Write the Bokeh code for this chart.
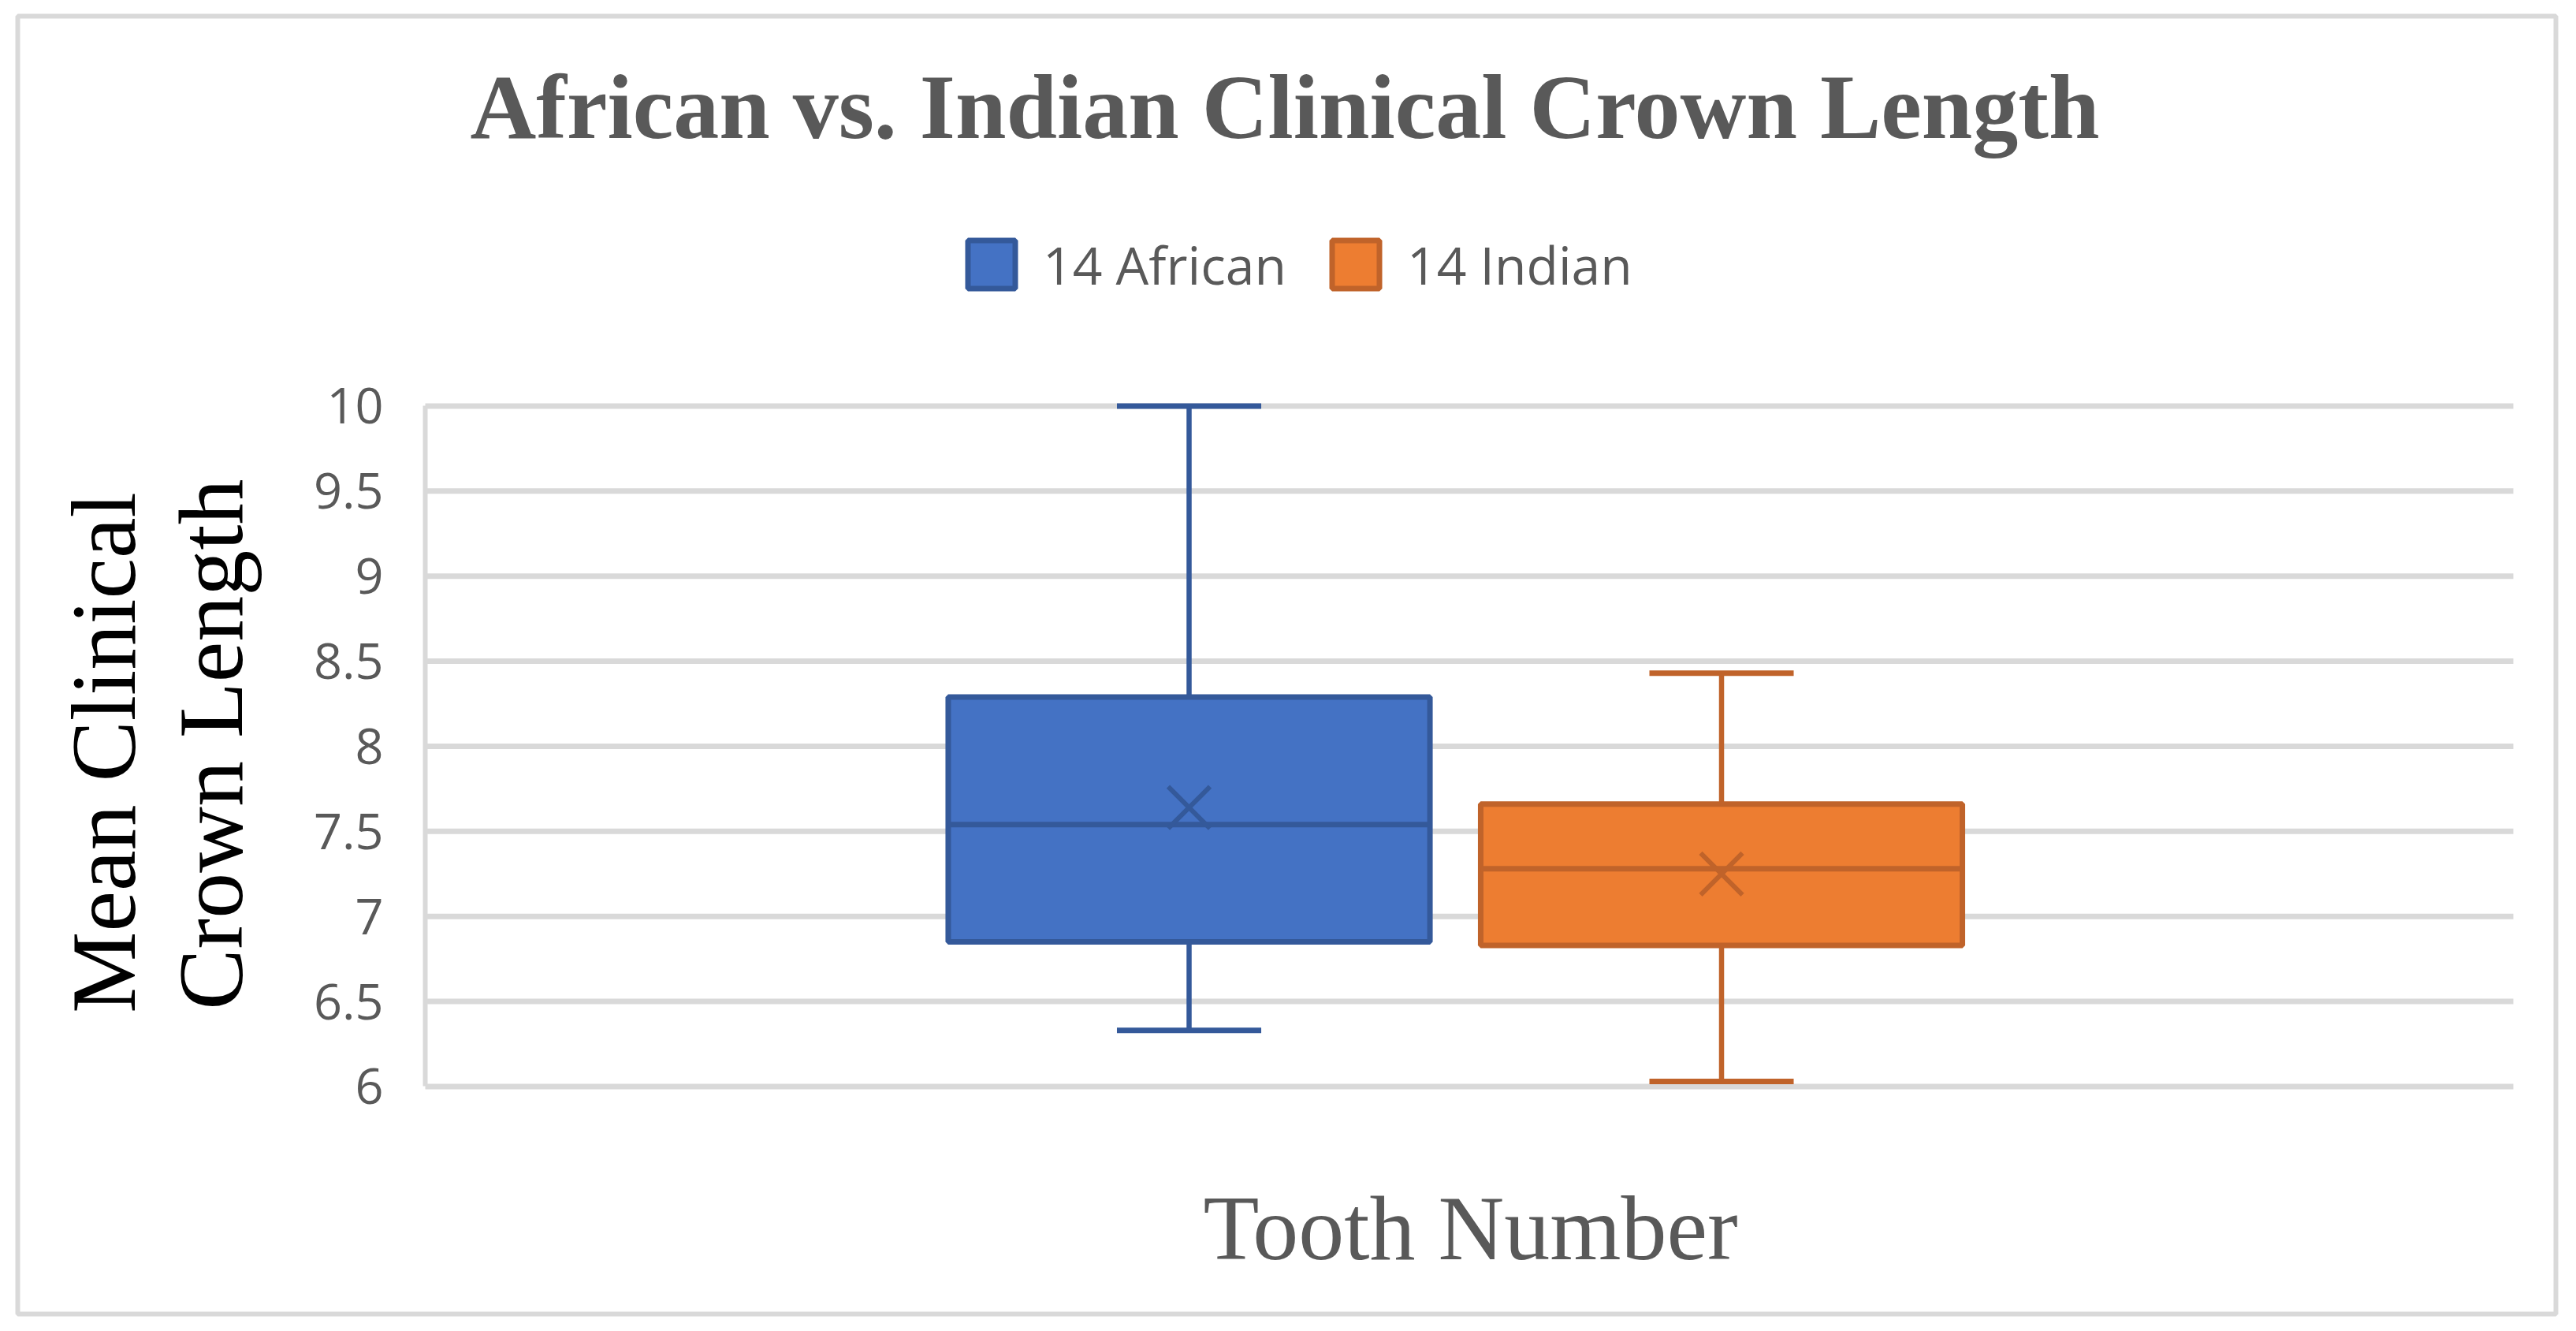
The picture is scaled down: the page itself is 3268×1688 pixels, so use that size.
from bokeh.plotting import figure
from bokeh.models import (Range1d, Label, Legend, LegendItem, FixedTicker,
                          ColumnDataSource, LinearAxis)
from bokeh.embed import file_html
from bokeh.resources import INLINE

# ---- data ----
series = ["14 African", "14 Indian"]
q1 = [6.85, 6.83]
median = [7.54, 7.28]
q3 = [8.29, 7.66]
whisker_low = [6.33, 6.03]
whisker_high = [10.0, 8.43]
mean = [7.64, 7.25]
y_ticks = [6, 6.5, 7, 7.5, 8, 8.5, 9, 9.5, 10]
y_tick_labels = ["6", "6.5", "7", "7.5", "8", "8.5", "9", "9.5", "10"]
fill_colors = ["#4472C4", "#ED7D31"]
line_colors = ["#34599A", "#C0632A"]

title_text = "African vs. Indian Clinical Crown Length"
y_title = ["Mean Clinical", "Crown Length"]
x_title = "Tooth Number"

# ---- layout constants ----
W, H = 3252, 1672
center = 0.4933
dodge = 0.1275
box_w = 0.2307
cap_w = 0.0691
GRAY = "#595959"
GRID = "#D9D9D9"

# the frame is the whole chart area (its outline is the chart border);
# the plot area maps x 0..1 and y 6..10
p = figure(width=W, height=H, output_backend="svg", toolbar_location=None,
           x_range=Range1d(-0.19517, 1.02038), y_range=Range1d(4.6628, 12.2920),
           title=None, x_axis_location=None, y_axis_location=None,
           min_border_left=22, min_border_right=10, min_border_top=20,
           min_border_bottom=6)
p.outline_line_color = GRID
p.outline_line_width = 6
p.background_fill_color = "white"
p.border_fill_color = "white"
p.xgrid.visible = False
p.ygrid.visible = False

# horizontal gridlines across the plot area
p.segment(x0=[0] * len(y_ticks), y0=y_ticks, x1=[1] * len(y_ticks), y1=y_ticks,
          line_color=GRID, line_width=7)

yax = LinearAxis(fixed_location=0, ticker=FixedTicker(ticks=y_ticks),
                 major_label_overrides={t: l for t, l in zip(y_ticks, y_tick_labels)})
yax.bounds = (6, 10)
yax.axis_line_color = GRID
yax.axis_line_width = 6
yax.major_tick_line_color = None
yax.minor_tick_line_color = None
yax.major_tick_out = 0
yax.major_tick_in = 0
yax.major_label_standoff = 53
yax.major_label_text_font = "Open Sans"
yax.major_label_text_font_size = "63px"
yax.major_label_text_color = GRAY
p.add_layout(yax, "left")

items = []
for i, name in enumerate(series):
    xc = center + (2 * i - 1) * dodge
    src = ColumnDataSource(dict(
        x=[xc], q1=[q1[i]], q3=[q3[i]], med=[median[i]], lo=[whisker_low[i]],
        hi=[whisker_high[i]], mean=[mean[i]],
        xl=[xc - box_w / 2], xr=[xc + box_w / 2],
        cl=[xc - cap_w / 2], cr=[xc + cap_w / 2]))
    lc = line_colors[i]
    p.segment(x0="x", y0="q3", x1="x", y1="hi", source=src, line_color=lc, line_width=6.5)
    p.segment(x0="x", y0="q1", x1="x", y1="lo", source=src, line_color=lc, line_width=6.5)
    p.segment(x0="cl", y0="hi", x1="cr", y1="hi", source=src, line_color=lc, line_width=7)
    p.segment(x0="cl", y0="lo", x1="cr", y1="lo", source=src, line_color=lc, line_width=7)
    box = p.quad(left="xl", right="xr", bottom="q1", top="q3", source=src,
                 fill_color=fill_colors[i], line_color=lc, line_width=7)
    p.segment(x0="xl", y0="med", x1="xr", y1="med", source=src, line_color=lc, line_width=7)
    p.scatter(x="x", y="mean", source=src, marker="x", size=75, line_color=lc, line_width=6)
    items.append(LegendItem(label=name, renderers=[box]))

legend = Legend(items=items, location=(1198, 1286.5), orientation="horizontal",
                glyph_width=75, glyph_height=76, label_standoff=28, spacing=50,
                padding=0, margin=0, border_line_color=None, background_fill_alpha=0,
                label_text_font="Open Sans", label_text_font_size="66px",
                label_text_color=GRAY)
p.add_layout(legend)

# title
p.add_layout(Label(x=1607.5, y=1531, x_units="screen", y_units="screen", text=title_text,
                   text_font="Liberation Serif", text_font_style="bold",
                   text_font_size="116px", text_color=GRAY,
                   text_align="center", text_baseline="alphabetic"))
# y axis title (two lines)
p.add_layout(Label(x=109.6, y=712, x_units="screen", y_units="screen", text=y_title[0],
                   angle=1.5707963, text_font="Liberation Serif", text_font_size="116px",
                   text_color="black", text_align="center", text_baseline="alphabetic"))
p.add_layout(Label(x=245.7, y=722.4, x_units="screen", y_units="screen", text=y_title[1],
                   angle=1.5707963, text_font="Liberation Serif", text_font_size="116px",
                   text_color="black", text_align="center", text_baseline="alphabetic"))
# x axis title
p.add_layout(Label(x=1843, y=109, x_units="screen", y_units="screen", text=x_title,
                   text_font="Liberation Serif", text_font_size="116px",
                   text_color=GRAY, text_align="center", text_baseline="alphabetic"))

open("out.html", "w").write(file_html(p, INLINE))
